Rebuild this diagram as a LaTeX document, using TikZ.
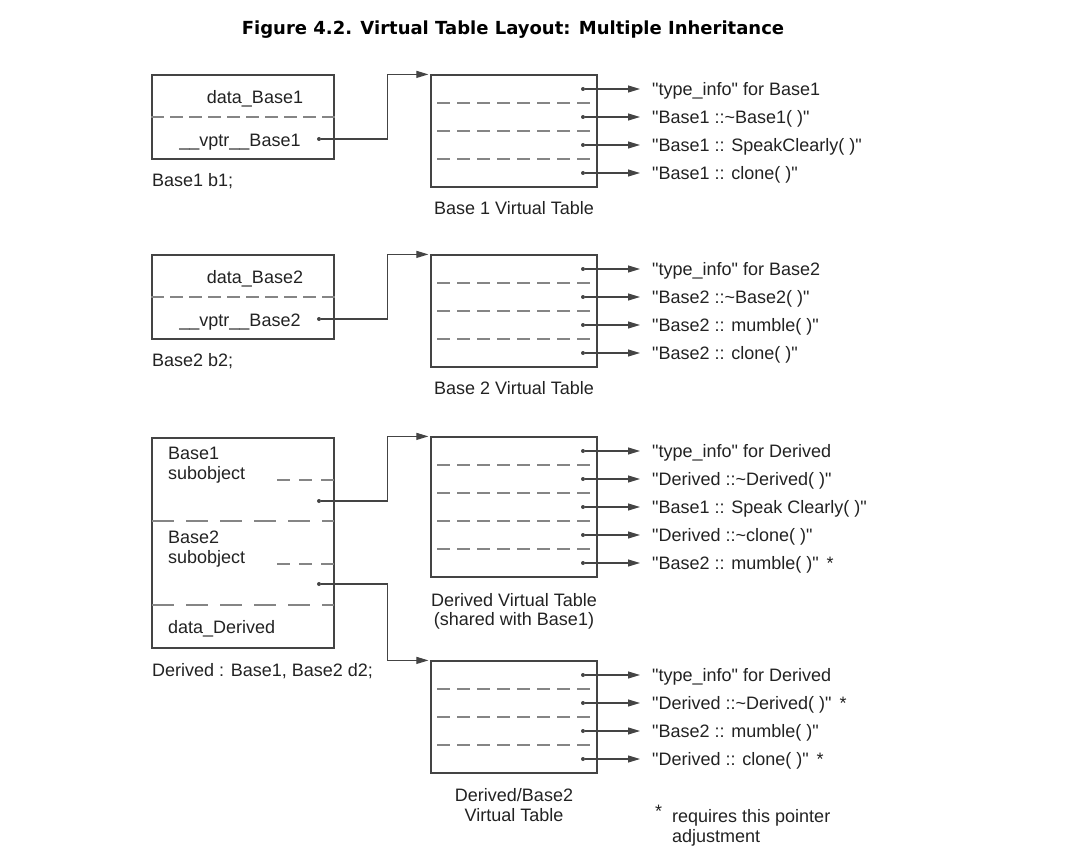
\documentclass[tikz,border=0pt]{standalone}
\usepackage{fontspec}
\setmainfont{Liberation Sans}[Ligatures=TeXOff]
\newfontfamily\titlefont{DejaVu Sans}
\usetikzlibrary{arrows.meta,positioning}

\definecolor{linecol}{HTML}{444444}
\definecolor{dashcol}{HTML}{858585}
\definecolor{txtcol}{HTML}{222222}

\tikzset{
  objbox/.style={draw=linecol, line width=1.2pt, minimum width=182pt, inner sep=0pt},
  vtbox/.style={draw=linecol, line width=1.2pt, minimum width=166pt, inner sep=0pt},
  slotsep/.style={draw=dashcol, line width=1.2pt, dash pattern=on 13pt off 7pt},
  objsep/.style={draw=dashcol, line width=1.2pt, dash pattern=on 13pt off 6pt},
  subsep/.style={draw=dashcol, line width=1.2pt, dash pattern=on 22pt off 12pt},
  subdash/.style={draw=dashcol, line width=1.2pt, dash pattern=on 13pt off 9pt},
  vptr/.style={draw=linecol, line width=1.1pt, -{Triangle[length=12pt,width=7pt]}, shorten >=2pt},
  slot/.style={draw=linecol, line width=1.1pt, -{Triangle[length=12pt,width=7pt]}, shorten >=10pt},
  pdot/.style={circle, fill=linecol, inner sep=0pt, minimum size=4pt},
  txt/.style={inner sep=2pt, text height=13pt, text depth=0pt},
  entry/.style={txt, anchor=west},
}

\begin{document}
\begin{tikzpicture}[x=1pt, y=-1pt, font=\fontsize{18}{20}\selectfont,
  every node/.append style={text=txtcol}]
\useasboundingbox (0,0) rectangle (1078,850);

\node[font=\titlefont\bfseries\fontsize{18}{20}\selectfont, text=black] (title) at (513,30)
  {Figure 4.2. Virtual Table Layout: Multiple Inheritance};

% Base1 b1
\node[objbox, minimum height=84pt] (b1) at (243,117) {};
\draw[objsep] (b1.west) -- (b1.east);
\node[txt] (b1data) at (255,97) {data\_Base1};
\node[txt] (b1vp) at (240,140) {\_\_vptr\_\_Base1};
\node[pdot] (b1dot) at (319,139) {};
\node[entry] (b1name) at (150,180) {Base1 b1;};

\node[vtbox, minimum height=112pt] (vt1) at (514,131) {};
\draw[slotsep] (437,103) -- (597,103);
\draw[slotsep] (437,131) -- (597,131);
\draw[slotsep] (437,159) -- (597,159);
\node[pdot] (vt1a) at (583,89) {};
\node[pdot] (vt1b) at (583,117) {};
\node[pdot] (vt1c) at (583,145) {};
\node[pdot] (vt1d) at (583,173) {};
\node[entry] (fn1a) at (650,89) {"type\_info" for Base1};
\node[entry] (fn1b) at (650,117) {"Base1 ::\textasciitilde Base1( )"};
\node[entry] (fn1c) at (650,145) {"Base1 :: SpeakClearly( )"};
\node[entry] (fn1d) at (650,173) {"Base1 :: clone( )"};
\draw[slot] (vt1a) -- (fn1a.west);
\draw[slot] (vt1b) -- (fn1b.west);
\draw[slot] (vt1c) -- (fn1c.west);
\draw[slot] (vt1d) -- (fn1d.west);
\node[txt] (vt1cap) at (514,208) {Base 1 Virtual Table};
\draw[vptr] (b1dot) -| ([xshift=-43pt]vt1.north west) -- (vt1.north west);

% Base2 b2
\node[objbox, minimum height=84pt] (b2) at (243,297) {};
\draw[objsep] (b2.west) -- (b2.east);
\node[txt] (b2data) at (255,277) {data\_Base2};
\node[txt] (b2vp) at (240,320) {\_\_vptr\_\_Base2};
\node[pdot] (b2dot) at (319,319) {};
\node[entry] (b2name) at (150,360) {Base2 b2;};

\node[vtbox, minimum height=112pt] (vt2) at (514,311) {};
\draw[slotsep] (437,283) -- (597,283);
\draw[slotsep] (437,311) -- (597,311);
\draw[slotsep] (437,339) -- (597,339);
\node[pdot] (vt2a) at (583,269) {};
\node[pdot] (vt2b) at (583,297) {};
\node[pdot] (vt2c) at (583,325) {};
\node[pdot] (vt2d) at (583,353) {};
\node[entry] (fn2a) at (650,269) {"type\_info" for Base2};
\node[entry] (fn2b) at (650,297) {"Base2 ::\textasciitilde Base2( )"};
\node[entry] (fn2c) at (650,325) {"Base2 :: mumble( )"};
\node[entry] (fn2d) at (650,353) {"Base2 :: clone( )"};
\draw[slot] (vt2a) -- (fn2a.west);
\draw[slot] (vt2b) -- (fn2b.west);
\draw[slot] (vt2c) -- (fn2c.west);
\draw[slot] (vt2d) -- (fn2d.west);
\node[txt] (vt2cap) at (514,388) {Base 2 Virtual Table};
\draw[vptr] (b2dot) -| ([xshift=-43pt]vt2.north west) -- (vt2.north west);

% Derived d2
\node[objbox, minimum height=210pt] (d2) at (243,543) {};
\node[entry] (d2b1a) at (166,453) {Base1};
\node[entry] (d2b1b) at (166,473) {subobject};
\draw[subdash] (277,480) -- (334,480);
\node[pdot] (d2dot1) at (319,501) {};
\draw[subsep] (152,521) -- (334,521);
\node[entry] (d2b2a) at (166,537) {Base2};
\node[entry] (d2b2b) at (166,557) {subobject};
\draw[subdash] (277,564) -- (334,564);
\node[pdot] (d2dot2) at (319,584) {};
\draw[subsep] (152,605) -- (334,605);
\node[entry] (d2data) at (166,627) {data\_Derived};
\node[entry] (d2name) at (150,670) {Derived : Base1, Base2 d2;};

\node[vtbox, minimum height=140pt] (dvt) at (514,507) {};
\draw[slotsep] (437,465) -- (597,465);
\draw[slotsep] (437,493) -- (597,493);
\draw[slotsep] (437,521) -- (597,521);
\draw[slotsep] (437,549) -- (597,549);
\node[pdot] (dvta) at (583,451) {};
\node[pdot] (dvtb) at (583,479) {};
\node[pdot] (dvtc) at (583,507) {};
\node[pdot] (dvtd) at (583,535) {};
\node[pdot] (dvte) at (583,563) {};
\node[entry] (fn3a) at (650,451) {"type\_info" for Derived};
\node[entry] (fn3b) at (650,479) {"Derived ::\textasciitilde Derived( )"};
\node[entry] (fn3c) at (650,507) {"Base1 :: Speak Clearly( )"};
\node[entry] (fn3d) at (650,535) {"Derived ::\textasciitilde clone( )"};
\node[entry] (fn3e) at (650,563) {"Base2 :: mumble( )"\hspace{8pt}*};
\draw[slot] (dvta) -- (fn3a.west);
\draw[slot] (dvtb) -- (fn3b.west);
\draw[slot] (dvtc) -- (fn3c.west);
\draw[slot] (dvtd) -- (fn3d.west);
\draw[slot] (dvte) -- (fn3e.west);
\node[txt] (dvtcap1) at (514,600) {Derived Virtual Table};
\node[txt] (dvtcap2) at (514,619) {(shared with Base1)};
\draw[vptr] (d2dot1) -| ([xshift=-43pt]dvt.north west) -- (dvt.north west);

\node[vtbox, minimum height=112pt] (dbvt) at (514,717) {};
\draw[slotsep] (437,689) -- (597,689);
\draw[slotsep] (437,717) -- (597,717);
\draw[slotsep] (437,745) -- (597,745);
\node[pdot] (dbvta) at (583,675) {};
\node[pdot] (dbvtb) at (583,703) {};
\node[pdot] (dbvtc) at (583,731) {};
\node[pdot] (dbvtd) at (583,759) {};
\node[entry] (fn4a) at (650,675) {"type\_info" for Derived};
\node[entry] (fn4b) at (650,703) {"Derived ::\textasciitilde Derived( )"\hspace{8pt}*};
\node[entry] (fn4c) at (650,731) {"Base2 :: mumble( )"};
\node[entry] (fn4d) at (650,759) {"Derived :: clone( )"\hspace{8pt}*};
\draw[slot] (dbvta) -- (fn4a.west);
\draw[slot] (dbvtb) -- (fn4b.west);
\draw[slot] (dbvtc) -- (fn4c.west);
\draw[slot] (dbvtd) -- (fn4d.west);
\node[txt] (dbvtcap1) at (514,795) {Derived/Base2};
\node[txt] (dbvtcap2) at (514,815) {Virtual Table};
\draw[vptr] (d2dot2) -| ([xshift=-43pt]dbvt.north west) -- (dbvt.north west);

\node[entry] (fnstar) at (653,811) {*};
\node[entry] (fnnote1) at (670,816) {requires this pointer};
\node[entry] (fnnote2) at ([yshift=-20pt]fnnote1.west) {adjustment};
\end{tikzpicture}
\end{document}
